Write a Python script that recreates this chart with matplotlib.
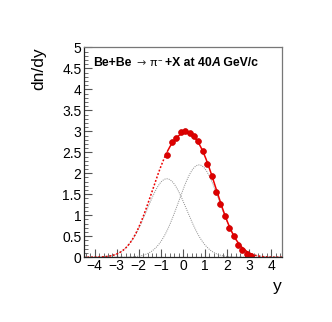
import numpy as np
import matplotlib
matplotlib.use("Agg")
import matplotlib.pyplot as plt
from matplotlib.ticker import MultipleLocator

plt.rcParams['font.family'] = ['Liberation Sans', 'DejaVu Sans']

# data points
rapidity = [-0.7, -0.5, -0.3, -0.1, 0.1, 0.3, 0.5, 0.7, 0.9, 1.1,
            1.3, 1.5, 1.7, 1.9, 2.1, 2.3, 2.5, 2.7, 2.9, 3.1]
dndy = [2.44, 2.75, 2.85, 2.98, 3.01, 2.96, 2.88, 2.77, 2.54, 2.22,
        1.93, 1.56, 1.28, 0.99, 0.69, 0.50, 0.29, 0.18, 0.08, 0.03]

# double-Gaussian fit parameters
amp_left, mu_left, sig_left = 1.87, -0.73, 0.90
amp_right, mu_right, sig_right = 2.20, 0.73, 0.92

xticks = [-4, -3, -2, -1, 0, 1, 2, 3, 4]
yticks = [0, 0.5, 1, 1.5, 2, 2.5, 3, 3.5, 4, 4.5, 5]


def gauss(x, a, m, s):
    return a * np.exp(-0.5 * ((x - m) / s) ** 2)


fig = plt.figure(figsize=(3.32, 3.22), dpi=100)
ax = fig.add_axes([0.252, 0.201, 0.598, 0.652])

xs = np.linspace(-4.5, 4.5, 600)
g1 = gauss(xs, amp_left, mu_left, sig_left)
g2 = gauss(xs, amp_right, mu_right, sig_right)
tot = g1 + g2

ax.plot(xs, g1, color='#888888', lw=0.7, ls=(0, (1, 1.2)))
ax.plot(xs, g2, color='#888888', lw=0.7, ls=(0, (1, 1.2)))

xmin, xmax = min(rapidity), max(rapidity)
inr = (xs >= xmin) & (xs <= xmax)
ax.plot(xs[xs <= xmin], tot[xs <= xmin], color='#ee0000', lw=1.1, ls=(0, (1.2, 1.2)))
ax.plot(xs[xs >= xmax], tot[xs >= xmax], color='#ee0000', lw=1.1, ls=(0, (1.2, 1.2)))
ax.plot(xs[inr], tot[inr], color='#ee0000', lw=1.1)
ax.plot(rapidity, dndy, 'o', color='#dd0000', ms=4.2, mec='#cc0000', mew=0.5)

ax.set_xlim(-4.5, 4.5)
ax.set_ylim(0, 5)
ax.set_xticks(xticks)
ax.set_yticks(yticks)
ax.set_yticklabels(['0', '0.5', '1', '1.5', '2', '2.5', '3', '3.5', '4', '4.5', '5'])
ax.set_xticklabels(['\u22124', '\u22123', '\u22122', '\u22121', '0', '1', '2', '3', '4'])
ax.xaxis.set_minor_locator(MultipleLocator(0.2))
ax.yaxis.set_minor_locator(MultipleLocator(0.1))
ax.tick_params(which='both', direction='in', top=False, right=False,
               labelsize=10, color='#555555', pad=1.5)
ax.tick_params(which='major', length=6, width=0.8)
ax.tick_params(which='minor', length=3, width=0.6)
for s in ['top', 'right']:
    ax.spines[s].set_color('#777777')
for s in ['left', 'bottom']:
    ax.spines[s].set_color('#222222')
for s in ax.spines.values():
    s.set_linewidth(0.9)

fig.text(0.118, 0.853, 'dn/dy', rotation=90, ha='center', va='top', fontsize=12.5)
fig.text(0.848, 0.096, 'y', ha='right', va='baseline', fontsize=12.5)

# title composed of pieces: (text, style, gap before in px, raise px)
fig.canvas.draw()
renderer = fig.canvas.get_renderer()
pieces = [
    ('Be+Be', dict(fontweight='bold'), 0, 0),
    ('\u2192', dict(fontweight='normal', color='#333333', family='DejaVu Sans', fontsize=8), 5, 0),
    ('\u03c0', dict(fontweight='normal', fontsize=8), 4, 0),
    ('\u2212', dict(fontweight='normal', fontsize=5.5), 0.5, 4),
    ('+X at 40', dict(fontweight='bold'), 2.5, 0),
    ('A', dict(fontweight='bold', style='italic'), 0, 0),
    (' GeV/c', dict(fontweight='bold'), 0, 0),
]
xpx = 93.0
ybase = 322 - 66.0
for txt, kw, gap, dy in pieces:
    kw = dict(kw)
    fs = kw.pop('fontsize', 8.8)
    xpx += gap
    t = fig.text(xpx / 332, (ybase + dy) / 322, txt, fontsize=fs, va='baseline', ha='left', **kw)
    bb = t.get_window_extent(renderer)
    xpx = bb.x1

fig.savefig('out.png', dpi=100)
